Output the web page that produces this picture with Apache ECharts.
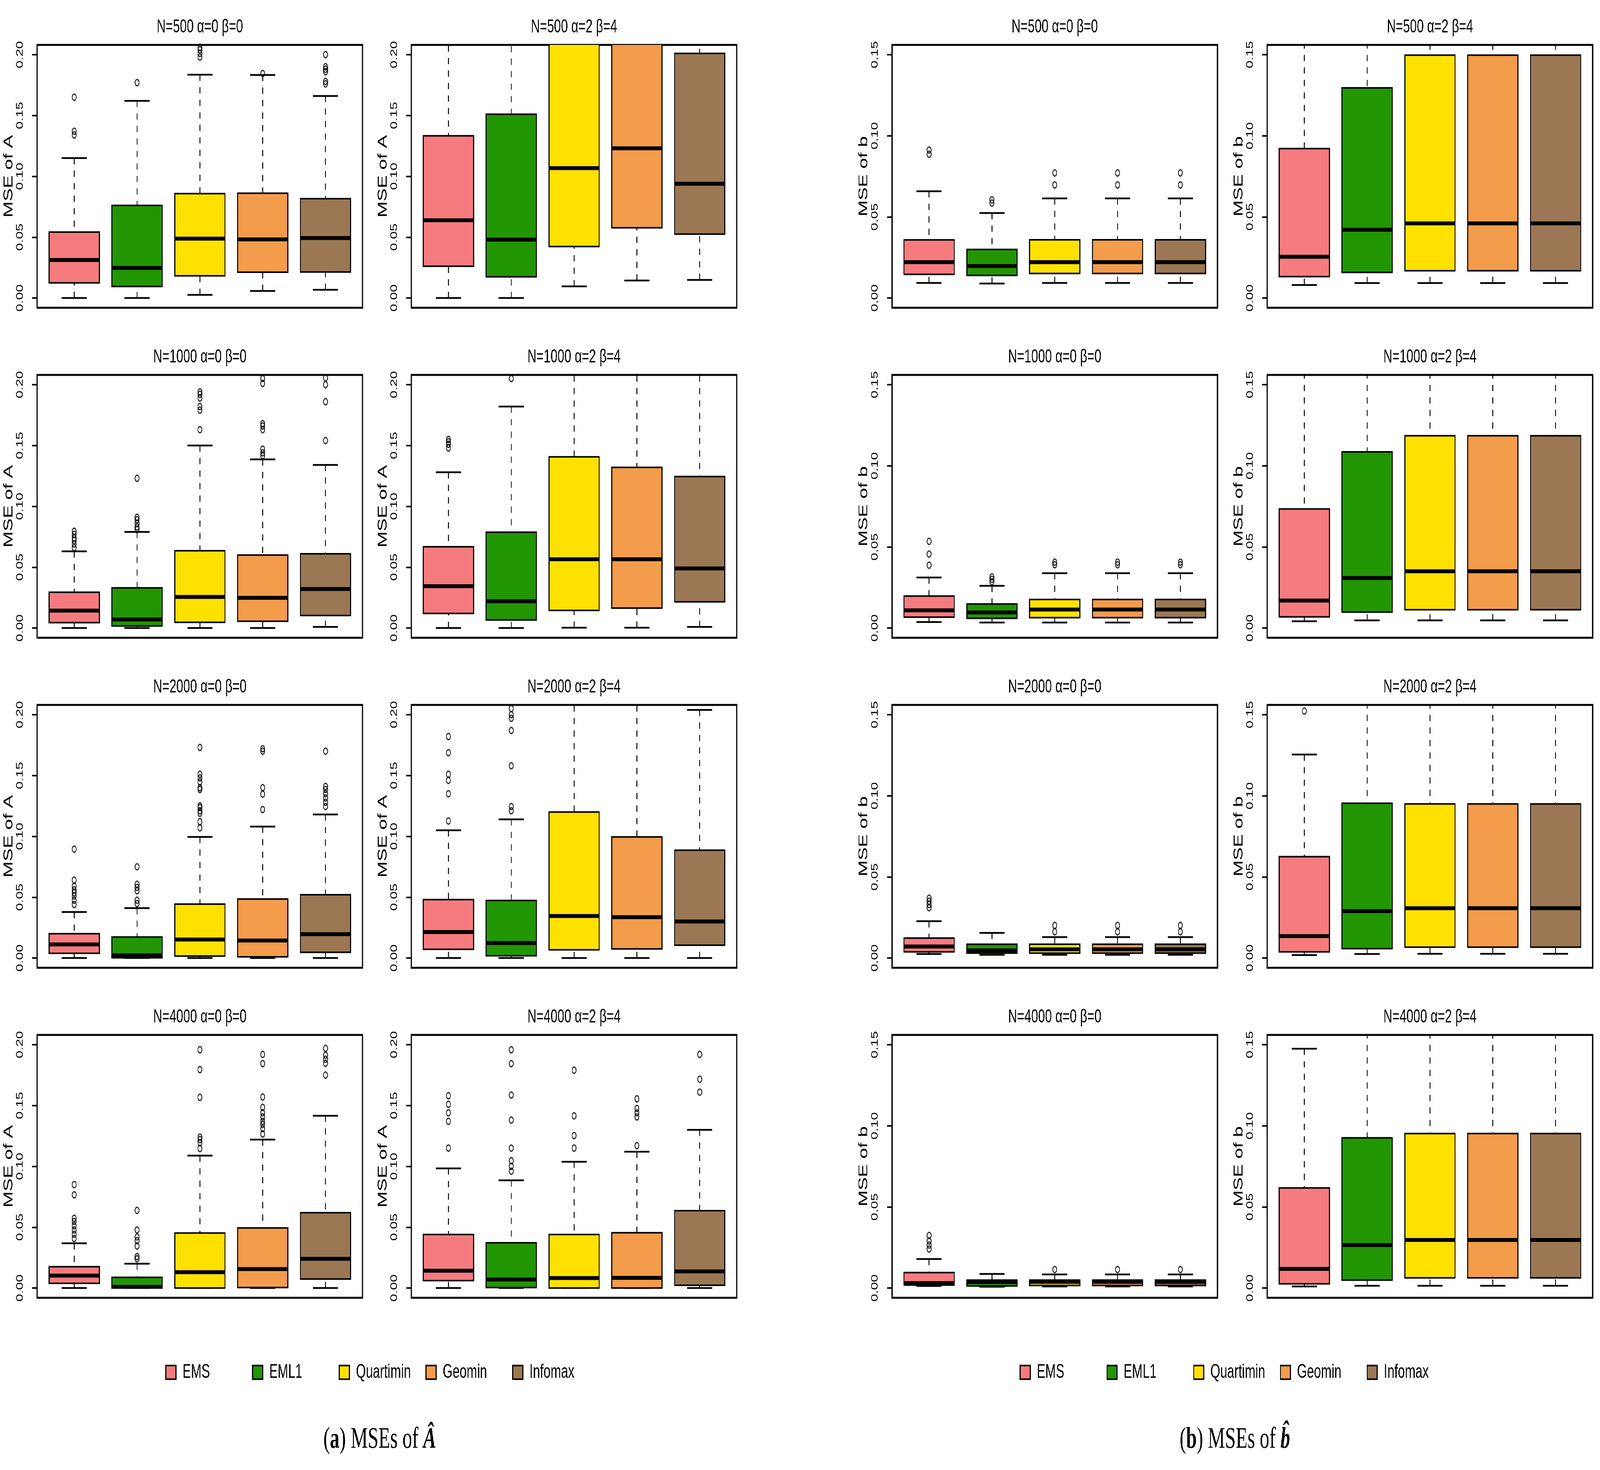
<!DOCTYPE html>
<html>
<head>
<meta charset="utf-8">
<title>MSE boxplots</title>
<script src="https://cdn.jsdelivr.net/npm/echarts@6/dist/echarts.min.js"></script>
<style>
  html, body { margin: 0; padding: 0; background: #fff; overflow: hidden; }
  #wrap { width: 6328px; height: 3764px; position: relative; transform-origin: 0 0; }
  .half { position: absolute; top: 0; width: 3164px; height: 3764px; }
  #chartA { left: 0; }
  #chartB { left: 3164px; }
</style>
</head>
<body>
<div id="wrap">
  <div id="chartA" class="half"></div>
  <div id="chartB" class="half"></div>
</div>
<script>
var methods = ["EMS", "EML1", "Quartimin", "Geomin", "Infomax"];
var colors = ["#F67B7E", "#229602", "#FFE100", "#F39C4B", "#9B7853"];

// each row: [lower whisker, Q1, median, Q3, upper whisker] for EMS, EML1, Quartimin, Geomin, Infomax
// --- (a) MSE of A ---
var A_500_00 = [[0, 0.0125, 0.0312, 0.0542, 0.115], [0, 0.0095, 0.0247, 0.0761, 0.162], [0.0026, 0.0182, 0.0488, 0.0858, 0.1835], [0.0058, 0.0212, 0.0482, 0.0861, 0.1833], [0.0068, 0.0214, 0.0493, 0.0816, 0.166]];
var A_500_00_out = [[0.134, 0.137, 0.165], [0.177], [0.198, 0.201, 0.204, 0.206], [0.1845], [0.176, 0.178, 0.186, 0.188, 0.19, 0.2]];
var A_500_24 = [[0, 0.0261, 0.0639, 0.1333, 0.3], [0, 0.0174, 0.048, 0.151, 0.32], [0.0096, 0.0423, 0.1067, 0.24, 0.45], [0.0144, 0.0577, 0.123, 0.23, 0.42], [0.0149, 0.0525, 0.0939, 0.201, 0.4]];
var A_500_24_out = [[], [], [], [], []];

var A_1000_00 = [[0, 0.0044, 0.0143, 0.0294, 0.063], [0, 0.0017, 0.007, 0.033, 0.079], [0, 0.0047, 0.0255, 0.0635, 0.150], [0, 0.0056, 0.0248, 0.060, 0.1386], [0.0009, 0.0103, 0.032, 0.061, 0.134]];
var A_1000_00_out = [[0.066, 0.069, 0.072, 0.074, 0.077, 0.0795], [0.081, 0.083, 0.086, 0.089, 0.091, 0.123], [0.163, 0.179, 0.182, 0.189, 0.192, 0.194], [0.1416, 0.144, 0.147, 0.163, 0.166, 0.168, 0.201, 0.205], [0.154, 0.186, 0.2, 0.2055]];
var A_1000_24 = [[0, 0.012, 0.0344, 0.0668, 0.128], [0, 0.0066, 0.022, 0.0787, 0.182], [0.0003, 0.0145, 0.0565, 0.1407, 0.3], [0.0003, 0.0164, 0.0565, 0.132, 0.3], [0.0009, 0.0215, 0.049, 0.1245, 0.3]];
var A_1000_24_out = [[0.148, 0.151, 0.153, 0.155], [0.205], [], [], []];

var A_2000_00 = [[0, 0.0039, 0.0112, 0.020, 0.0378], [0, 0.0002, 0.0023, 0.0173, 0.041], [0, 0.0016, 0.0152, 0.0443, 0.0995], [0, 0.001, 0.0144, 0.0485, 0.108], [0, 0.0047, 0.0196, 0.052, 0.118]];
var A_2000_00_out = [[0.044, 0.0475, 0.051, 0.0536, 0.056, 0.059, 0.064, 0.0895], [0.0448, 0.0475, 0.0553, 0.058, 0.0606, 0.075], [0.107, 0.112, 0.119, 0.121, 0.1236, 0.125, 0.1385, 0.14, 0.1447, 0.148, 0.151, 0.173], [0.122, 0.1347, 0.14, 0.17, 0.172], [0.1245, 0.128, 0.1315, 0.135, 0.1385, 0.141, 0.17]];
var A_2000_24 = [[0, 0.0072, 0.0214, 0.048, 0.105], [0, 0.0019, 0.0123, 0.0473, 0.114], [0, 0.0068, 0.0345, 0.12, 0.3], [0, 0.0075, 0.0336, 0.0995, 0.3], [0, 0.0105, 0.03, 0.0886, 0.2039]];
var A_2000_24_out = [[0.1126, 0.135, 0.146, 0.151, 0.1687, 0.182], [0.121, 0.1245, 0.158, 0.187, 0.197, 0.2, 0.205], [], [], []];

var A_4000_00 = [[0, 0.0039, 0.0102, 0.0175, 0.0368], [0, 0, 0.001, 0.0088, 0.02], [0, 0, 0.013, 0.0452, 0.1088], [0, 0.0004, 0.0156, 0.0494, 0.122], [0, 0.0074, 0.024, 0.0619, 0.1416]];
var A_4000_00_out = [[0.0407, 0.0442, 0.0477, 0.0512, 0.0547, 0.0573, 0.0766, 0.085], [0.024, 0.0258, 0.0345, 0.039, 0.042, 0.0477, 0.0638], [0.1146, 0.1195, 0.122, 0.124, 0.1567, 0.1795, 0.1958], [0.1266, 0.131, 0.1344, 0.137, 0.1406, 0.144, 0.1485, 0.157, 0.1844, 0.192], [0.175, 0.1847, 0.188, 0.1914, 0.197]];
var A_4000_24 = [[0, 0.0061, 0.0142, 0.044, 0.0983], [0, 0.0004, 0.007, 0.0372, 0.0885], [0, 0, 0.0082, 0.044, 0.1038], [0, 0, 0.0084, 0.0454, 0.112], [0, 0.0023, 0.0137, 0.0636, 0.13]];
var A_4000_24_out = [[0.115, 0.137, 0.144, 0.151, 0.158], [0.096, 0.1, 0.1046, 0.115, 0.138, 0.1586, 0.1844, 0.1958], [0.115, 0.1253, 0.1415, 0.179], [0.117, 0.1406, 0.144, 0.1476, 0.1555], [0.161, 0.1716, 0.192]];

// --- (b) MSE of b ---
var b_500_00 = [[0.0093, 0.0146, 0.0221, 0.0358, 0.0658], [0.0089, 0.0139, 0.0197, 0.0299, 0.0524], [0.0093, 0.0151, 0.0221, 0.0359, 0.0614], [0.0093, 0.0151, 0.0221, 0.0359, 0.0614], [0.0093, 0.0151, 0.0221, 0.0359, 0.0614]];
var b_500_00_out = [[0.0886, 0.0912], [0.0585, 0.0605], [0.0697, 0.0771], [0.0697, 0.0771], [0.0697, 0.0771]];
var b_500_24 = [[0.008, 0.0132, 0.0254, 0.0921, 0.25], [0.0092, 0.0158, 0.0421, 0.1295, 0.25], [0.0092, 0.0168, 0.046, 0.1497, 0.28], [0.0092, 0.0168, 0.046, 0.1497, 0.28], [0.0092, 0.0168, 0.046, 0.1497, 0.28]];
var b_500_24_out = [[], [], [], [], []];

var b_1000_00 = [[0.0037, 0.0067, 0.0109, 0.0197, 0.0311], [0.0034, 0.006, 0.0096, 0.0148, 0.026], [0.0034, 0.0064, 0.0114, 0.0176, 0.0338], [0.0034, 0.0064, 0.0114, 0.0176, 0.0338], [0.0034, 0.0064, 0.0114, 0.0176, 0.0338]];
var b_1000_00_out = [[0.0387, 0.0456, 0.0534], [0.0285, 0.03, 0.0315], [0.039, 0.0406], [0.039, 0.0406], [0.039, 0.0406]];
var b_1000_24 = [[0.0042, 0.0069, 0.0169, 0.0734, 0.25], [0.0047, 0.0098, 0.0308, 0.1086, 0.25], [0.0047, 0.0113, 0.035, 0.1185, 0.25], [0.0047, 0.0113, 0.035, 0.1185, 0.25], [0.0047, 0.0113, 0.035, 0.1185, 0.25]];
var b_1000_24_out = [[], [], [], [], []];

var b_2000_00 = [[0.0025, 0.0038, 0.0071, 0.0123, 0.0227], [0.002, 0.003, 0.0047, 0.0085, 0.0155], [0.002, 0.003, 0.0054, 0.0085, 0.0129], [0.002, 0.003, 0.0054, 0.0085, 0.0129], [0.002, 0.003, 0.0054, 0.0085, 0.0129]];
var b_2000_00_out = [[0.031, 0.033, 0.035, 0.0369], [], [0.0162, 0.0201], [0.0162, 0.0201], [0.0162, 0.0201]];
var b_2000_24 = [[0.0018, 0.0038, 0.0135, 0.0625, 0.1254], [0.0025, 0.0058, 0.0289, 0.0954, 0.25], [0.0026, 0.0067, 0.0307, 0.095, 0.25], [0.0026, 0.0067, 0.0307, 0.095, 0.25], [0.0026, 0.0067, 0.0307, 0.095, 0.25]];
var b_2000_24_out = [[0.1522], [], [], [], []];

var b_4000_00 = [[0.0013, 0.0018, 0.003, 0.0095, 0.0179], [0.0008, 0.0013, 0.0037, 0.0049, 0.0087], [0.001, 0.0016, 0.0038, 0.0049, 0.0084], [0.001, 0.0016, 0.0038, 0.0049, 0.0084], [0.001, 0.0016, 0.0038, 0.0049, 0.0084]];
var b_4000_00_out = [[0.024, 0.0265, 0.029, 0.0324], [], [0.0114], [0.0114], [0.0114]];
var b_4000_24 = [[0.001, 0.0026, 0.0118, 0.0617, 0.1475], [0.0014, 0.0049, 0.0265, 0.0926, 0.25], [0.0014, 0.0063, 0.0296, 0.0952, 0.25], [0.0014, 0.0063, 0.0296, 0.0952, 0.25], [0.0014, 0.0063, 0.0296, 0.0952, 0.25]];
var b_4000_24_out = [[], [], [], [], []];

var ticksA = [0, 0.05, 0.1, 0.15, 0.2];
var ticksB = [0, 0.05, 0.1, 0.15];
var sizes = ["N=500", "N=1000", "N=2000", "N=4000"];
var settings = ["α=0 β=0", "α=2 β=4"];

var panelsA = [
  [A_500_00, A_500_00_out], [A_500_24, A_500_24_out],
  [A_1000_00, A_1000_00_out], [A_1000_24, A_1000_24_out],
  [A_2000_00, A_2000_00_out], [A_2000_24, A_2000_24_out],
  [A_4000_00, A_4000_00_out], [A_4000_24, A_4000_24_out]
];
var panelsB = [
  [b_500_00, b_500_00_out], [b_500_24, b_500_24_out],
  [b_1000_00, b_1000_00_out], [b_1000_24, b_1000_24_out],
  [b_2000_00, b_2000_00_out], [b_2000_24, b_2000_24_out],
  [b_4000_00, b_4000_00_out], [b_4000_24, b_4000_24_out]
];

var SANS = "'Liberation Sans', Arial, sans-serif";
var SERIF = "'Liberation Serif', 'Times New Roman', serif";

// layout (px, inside each half of the 6328 x 3764 figure)
var plotW = 1287, plotH = 673, rowTop0 = 115, rowStep = 845;

// the window may be narrower than the figure: squeeze the whole figure into it
(function fitWindow() {
  var sx = Math.min(1, window.innerWidth / 6328);
  var sy = Math.min(1, window.innerHeight / 3764);
  document.getElementById("wrap").style.transform = "scale(" + sx + "," + sy + ")";
})();

function renderBox(params, api) {
  var x = api.value(0);
  var lo = api.coord([x, api.value(1)]);
  var q1 = api.coord([x, api.value(2)]);
  var md = api.coord([x, api.value(3)]);
  var q3 = api.coord([x, api.value(4)]);
  var hi = api.coord([x, api.value(5)]);
  var w = api.size([0.8, 0])[0];
  var cx = lo[0];
  var dash = { stroke: "#000", lineWidth: 3.5, lineDash: [16, 16] };
  var solid = { stroke: "#000", lineWidth: 4.5 };
  return {
    type: "group",
    children: [
      { type: "line", shape: { x1: cx, y1: lo[1], x2: cx, y2: q1[1] }, style: dash },
      { type: "line", shape: { x1: cx, y1: hi[1], x2: cx, y2: q3[1] }, style: dash },
      { type: "line", shape: { x1: cx - w / 4, y1: lo[1], x2: cx + w / 4, y2: lo[1] }, style: solid },
      { type: "line", shape: { x1: cx - w / 4, y1: hi[1], x2: cx + w / 4, y2: hi[1] }, style: solid },
      { type: "rect", shape: { x: cx - w / 2, y: q3[1], width: w, height: q1[1] - q3[1] },
        style: { fill: api.visual("color"), stroke: "#000", lineWidth: 4 } },
      { type: "line", shape: { x1: cx - w / 2, y1: md[1], x2: cx + w / 2, y2: md[1] },
        style: { stroke: "#000", lineWidth: 10 } }
    ]
  };
}

function buildOption(panels, colLeft, yName, ylim, ticks, legendLeft, capX, capText) {
  var grids = [], xAxes = [], yAxes = [], series = [], graphics = [], legends = [];
  var idx = 0;
  for (var r = 0; r < 4; r++) {
    for (var c = 0; c < 2; c++) {
      var left = colLeft[c];
      var topPx = rowTop0 + rowStep * r;
      var stats = panels[r * 2 + c][0];
      var outs = panels[r * 2 + c][1];
      grids.push({ left: left, top: topPx, width: plotW, height: plotH, show: true,
        borderColor: "#000", borderWidth: 5, backgroundColor: "transparent" });
      xAxes.push({ type: "value", gridIndex: idx, min: 0.41, max: 5.59, show: false });
      yAxes.push({
        type: "value", gridIndex: idx, min: ylim[0], max: ylim[1],
        name: yName, nameLocation: "middle", nameGap: 87,
        nameTextStyle: { fontSize: 50, fontFamily: SANS, color: "#000" },
        axisLine: { show: false },
        axisTick: { show: true, length: 20, lineStyle: { width: 4, color: "#000" }, customValues: ticks },
        axisLabel: { customValues: ticks, rotate: 90, margin: 49, fontSize: 36, fontFamily: SANS, color: "#000",
          formatter: function (v) { return v.toFixed(2); } },
        splitLine: { show: false }
      });
      var pts = [];
      for (var m = 0; m < 5; m++) {
        series.push({
          type: "custom", name: methods[m], xAxisIndex: idx, yAxisIndex: idx, clip: true,
          itemStyle: { color: colors[m] }, renderItem: renderBox,
          encode: { x: 0, y: [1, 2, 3, 4, 5] },
          data: [[m + 1].concat(stats[m])]
        });
        outs[m].forEach(function (v) { pts.push([m + 1, v]); });
      }
      series.push({
        type: "scatter", name: "outliers", xAxisIndex: idx, yAxisIndex: idx, clip: true, silent: true,
        symbol: "circle", symbolSize: 16, z: 3,
        itemStyle: { color: "rgba(0,0,0,0)", borderColor: "#000", borderWidth: 3.5 },
        data: pts
      });
      graphics.push({ type: "text", x: left + plotW / 2, y: topPx - 46,
        style: { text: sizes[r] + " " + settings[c], fontSize: 49, fontFamily: SANS, fill: "#000",
          align: "center", verticalAlign: "middle" } });
      idx++;
    }
  }
  // one legend per method so that the items sit on a fixed pitch
  for (var k = 0; k < 5; k++) {
    legends.push({
      data: [methods[k]], left: legendLeft + 343 * k, top: 3484,
      itemWidth: 40, itemHeight: 35, icon: "rect", selectedMode: false,
      itemStyle: { borderColor: "#000", borderWidth: 4 },
      textStyle: { fontSize: 50, fontFamily: SANS, color: "#000", padding: [0, 0, 0, 21] }
    });
  }
  graphics.push({ type: "text", x: capX, y: 3687,
    style: { text: capText, fontSize: 76, fontFamily: SERIF, fill: "#000", align: "center", verticalAlign: "middle",
      rich: {
        b: { fontSize: 76, fontFamily: SERIF, fontWeight: "bold" },
        bi: { fontSize: 76, fontFamily: SERIF, fontWeight: "bold", fontStyle: "italic" }
      } } });
  return {
    backgroundColor: "#fff",
    animation: false,
    grid: grids,
    xAxis: xAxes,
    yAxis: yAxes,
    legend: legends,
    graphic: graphics,
    series: series
  };
}

var chartA = echarts.init(document.getElementById("chartA"), null, { renderer: "canvas" });
chartA.setOption(buildOption(panelsA, [147, 1627], "MSE of A", [-0.008, 0.208], ticksA, 649, 1502,
  "({b|a}) MSEs of {bi|Â}"));

var chartB = echarts.init(document.getElementById("chartB"), null, { renderer: "canvas" });
chartB.setOption(buildOption(panelsB, [364, 1848], "MSE of b", [-0.006, 0.156], ticksB, 864, 1720,
  "({b|b}) MSEs of {bi|b\u0302}"));
</script>
</body>
</html>
